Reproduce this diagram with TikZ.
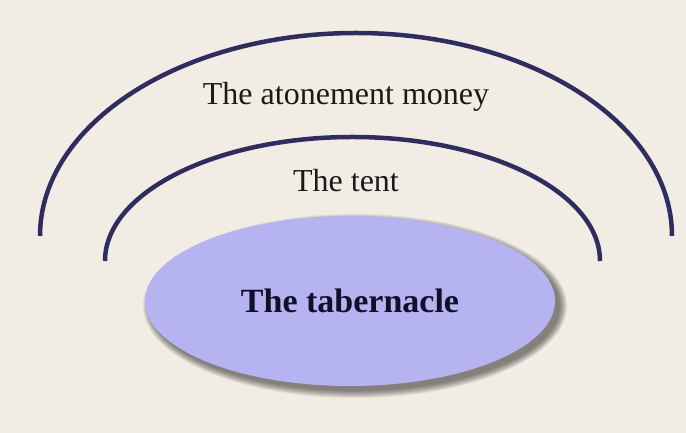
\documentclass[tikz,border=0pt]{standalone}
\usepackage{fontspec}
\setmainfont{Liberation Serif}
\usetikzlibrary{shapes.geometric}
\definecolor{paper}{HTML}{F2EDE4}
\definecolor{arcblue}{HTML}{2F2D60}
\definecolor{lav}{HTML}{B6B4F0}
\definecolor{inkdark}{HTML}{1A1A1A}
\definecolor{inknavy}{HTML}{10102A}
\tikzset{
  archline/.style={draw=arcblue, line width=4.5pt, line cap=butt},
  label text/.style={font=\fontsize{32}{38}\selectfont, text=inkdark, inner sep=0pt},
  shadowlayer/.style={fill=black, draw=none, opacity=0.07, ellipse},
}
\begin{document}
\begin{tikzpicture}[x=1pt,y=1pt]
  % background
  \fill[paper] (0,0) rectangle (686,433);
  \useasboundingbox (0,0) rectangle (686,433);
  % outer arc
  \draw[archline] (40,197) arc[start angle=180, end angle=0, x radius=316, y radius=203];
  % inner arc
  \draw[archline] (105,172) arc[start angle=180, end angle=0, x radius=247.5, y radius=124];
  % shadow of the tabernacle ellipse
  \foreach \s in {14,12,10,8,6,4,2,0}{
    \node[shadowlayer, minimum width=410pt+\s pt, minimum height=170pt+\s pt] at (355,127) {};
  }
  % the tabernacle
  \node[ellipse, fill=lav, draw=none, minimum width=410pt, minimum height=170pt, inner sep=0pt,
        font=\fontsize{34}{40}\selectfont\bfseries, text=inknavy] (tab) at (350,132) {The tabernacle};
  % labels
  \node[label text, anchor=base] (money) at (346,328) {The atonement money};
  \node[label text, anchor=base] (tent) at (346,241) {The tent};
\end{tikzpicture}
\end{document}
